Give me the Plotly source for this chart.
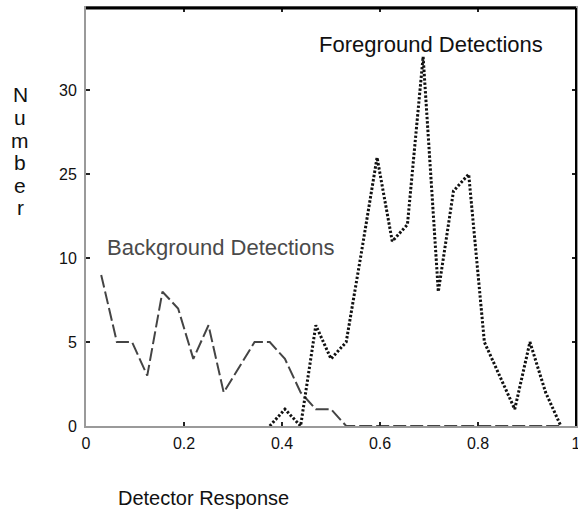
import plotly.graph_objects as go

# Bin centres (detector response)
bg_x = [0.031, 0.063, 0.094, 0.125, 0.156, 0.188, 0.219, 0.25, 0.281, 0.313,
        0.344, 0.375, 0.406, 0.438, 0.469, 0.5, 0.531, 0.563, 0.594, 0.625,
        0.656, 0.688, 0.719, 0.75, 0.781, 0.813, 0.844, 0.875, 0.906, 0.938, 0.969]
bg_y = [9, 5, 5, 3, 8, 7, 4, 6, 2, 3.5,
        5, 5, 4, 2, 1, 1, 0, 0, 0, 0,
        0, 0, 0, 0, 0, 0, 0, 0, 0, 0, 0]

fg_x = [0.375, 0.406, 0.438, 0.469, 0.5, 0.531, 0.563, 0.594, 0.625, 0.656,
        0.688, 0.719, 0.75, 0.781, 0.813, 0.844, 0.875, 0.906, 0.938, 0.969]
fg_y = [0, 1, 0, 6, 4, 5, 10.5, 16, 11, 12,
        22, 8, 14, 15, 5, 3, 1, 5, 2, 0]

x_tickvals = [0, 0.2, 0.4, 0.6, 0.8, 1]
x_ticktext = ["0", "0.2", "0.4", "0.6", "0.8", "1"]
y_tickvals = [0, 5, 10, 15, 20]
y_ticktext = ["0", "5", "10", "25", "30"]

FONT = "Liberation Sans, Arial, Helvetica, sans-serif"

fig = go.Figure()
fig.add_trace(go.Scatter(x=bg_x, y=bg_y, mode="lines",
                         line=dict(color="#444444", width=2, dash="13px,4px"),
                         showlegend=False, hoverinfo="skip"))
fig.add_trace(go.Scatter(x=fg_x, y=fg_y, mode="lines",
                         line=dict(color="#111111", width=3, dash="2.4px,1.9px"),
                         showlegend=False, hoverinfo="skip"))

axis_common = dict(showgrid=False, zeroline=False, showline=True,
                   linecolor="#9a9a9a", linewidth=2, mirror="ticks",
                   ticks="inside", ticklen=4, tickwidth=2, tickcolor="#222",
                   ticklabeloverflow="allow", automargin=False,
                   tickfont=dict(family=FONT, size=16, color="#111"))

fig.update_layout(
    width=578, height=512,
    margin=dict(l=86, r=2, t=8, b=86),
    paper_bgcolor="white", plot_bgcolor="white",
    xaxis=dict(range=[0, 1], tickvals=x_tickvals, ticktext=x_ticktext,
               ticklabelstandoff=2, **axis_common),
    yaxis=dict(range=[0, 24.9], tickvals=y_tickvals, ticktext=y_ticktext,
               ticklabelstandoff=4, **axis_common),
    shapes=[
        dict(type="line", xref="paper", yref="paper", x0=0, x1=1, y0=1, y1=1,
             line=dict(color="black", width=3), layer="above"),
        dict(type="line", xref="paper", yref="paper", x0=1, x1=1, y0=0, y1=1,
             line=dict(color="black", width=2), layer="above"),
    ],
)

annotations = [
    dict(text="Foreground Detections", x=0.705, y=0.912, xref="paper", yref="paper",
         showarrow=False, xanchor="center", yanchor="middle",
         font=dict(family=FONT, size=22, color="#111")),
    dict(text="Background Detections", x=0.2745, y=0.427, xref="paper", yref="paper",
         showarrow=False, xanchor="center", yanchor="middle",
         font=dict(family=FONT, size=22, color="#4a4a4a")),
    dict(text="Detector Response", x=0.24, y=-0.172, xref="paper", yref="paper",
         showarrow=False, xanchor="center", yanchor="middle",
         font=dict(family=FONT, size=20, color="#111")),
]
ylabel = "Number"
for i, ch in enumerate(ylabel):
    ypix = 95 + i * 22.6
    annotations.append(dict(text=ch, x=-0.1337, y=(426.5 - ypix) / 418.5,
                            xref="paper", yref="paper", showarrow=False,
                            xanchor="center", yanchor="middle",
                            font=dict(family=FONT, size=21, color="#111")))
fig.update_layout(annotations=annotations)

fig.write_html("out.html")
